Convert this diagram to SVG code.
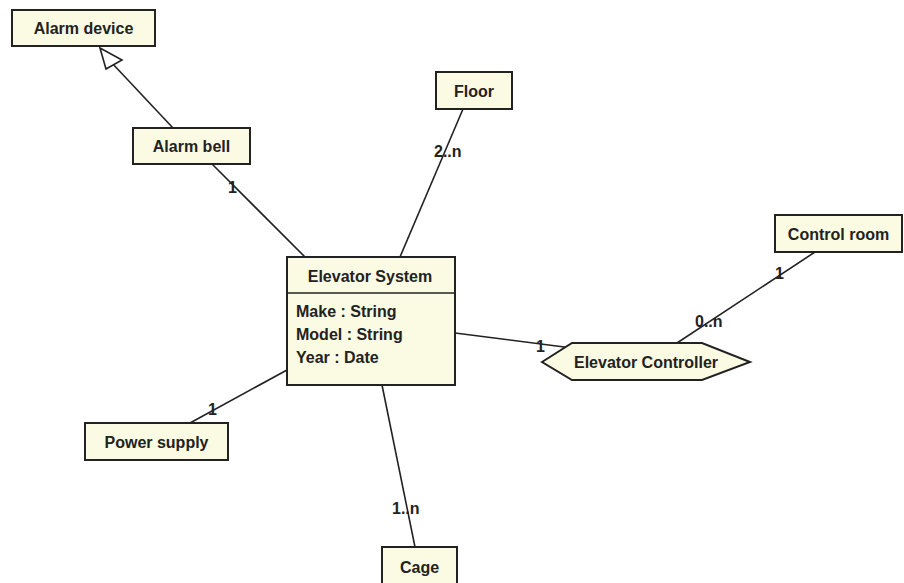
<svg xmlns="http://www.w3.org/2000/svg" width="904" height="583" viewBox="0 0 904 583">
<style>
.box{fill:#fbfae2;stroke:#222;stroke-width:2}
.t{font-family:"Liberation Sans",Arial,sans-serif;font-weight:bold;font-size:16px;fill:#222}
.c{text-anchor:middle}
.ln{stroke:#222;stroke-width:1.6;fill:none}
</style>
<rect width="904" height="583" fill="#fff"/>
<g id="connectors">
<line class="ln" x1="173" y1="128" x2="111" y2="62"/>
<polygon points="100,48 122,60 106,69" fill="#fff" stroke="#222" stroke-width="1.6"/>
<line class="ln" x1="212" y1="164" x2="305" y2="257"/>
<line class="ln" x1="463" y1="109" x2="400" y2="257"/>
<line class="ln" x1="815" y1="252" x2="677" y2="343"/>
<line class="ln" x1="455" y1="333" x2="572" y2="348"/>
<line class="ln" x1="190" y1="423" x2="287" y2="370"/>
<line class="ln" x1="382" y1="385" x2="415" y2="547"/>
<text class="t" x="228" y="193">1</text>
<text class="t" x="434" y="157">2..n</text>
<text class="t" x="775" y="279">1</text>
<text class="t" x="695" y="327">0..n</text>
<text class="t" x="536" y="352">1</text>
<text class="t" x="208" y="415">1</text>
<text class="t" x="392" y="514">1..n</text>
</g>
<g id="alarm-device">
<rect class="box" x="12" y="10" width="143" height="36"/>
<text class="t c" x="83.5" y="34">Alarm device</text>
</g>
<g id="alarm-bell">
<rect class="box" x="133" y="128" width="117" height="36"/>
<text class="t c" x="191.5" y="152">Alarm bell</text>
</g>
<g id="floor">
<rect class="box" x="436" y="72" width="76" height="37"/>
<text class="t c" x="474" y="97">Floor</text>
</g>
<g id="control-room">
<rect class="box" x="775" y="215" width="127" height="37"/>
<text class="t c" x="838.5" y="240">Control room</text>
</g>
<g id="elevator-system">
<rect class="box" x="287" y="257" width="168" height="128"/>
<line x1="287" y1="293" x2="455" y2="293" stroke="#222" stroke-width="1.6"/>
<text class="t c" x="370" y="282">Elevator System</text>
<text class="t" x="296" y="317">Make : String</text>
<text class="t" x="296" y="340">Model : String</text>
<text class="t" x="296" y="363">Year : Date</text>
</g>
<g id="elevator-controller">
<polygon class="box" points="542,362 572,343 702,343 750,362 702,380 572,380"/>
<text class="t c" x="646" y="368">Elevator Controller</text>
</g>
<g id="power-supply">
<rect class="box" x="85" y="423" width="143" height="37"/>
<text class="t c" x="156.5" y="448">Power supply</text>
</g>
<g id="cage">
<rect class="box" x="382" y="547" width="75" height="38"/>
<text class="t c" x="419.5" y="573">Cage</text>
</g>
</svg>
